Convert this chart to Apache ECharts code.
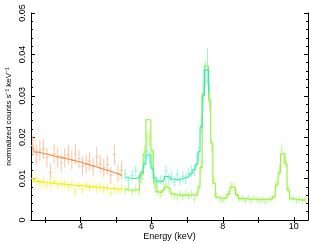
<!DOCTYPE html>
<html><head><meta charset="utf-8">
<script src="https://cdn.jsdelivr.net/npm/echarts@6/dist/echarts.min.js"></script>
<style>html,body{margin:0;padding:0;background:#fff}#c{width:310px;height:243px}</style>
</head><body><div id="c"></div>
<script>
// ---- data ----
const xTicks = [3, 4, 5, 6, 7, 8, 9, 10];
const xLabels = [4, 6, 8, 10];
const yTicks = [0, 0.01, 0.02, 0.03, 0.04, 0.05];

const energyLow = [2.65,2.75,2.85,2.95,3.05,3.15,3.25,3.35,3.45,3.55,3.65,3.75,3.85,3.95,4.05,4.15,4.25,4.35,4.45,4.55,4.65,4.75,4.85,4.95,5.05,5.15];
const orangeModel = [0.0176,0.0164,0.0162,0.0160,0.0158,0.0156,0.0154,0.0152,0.0150,0.0148,0.0146,0.0144,0.0142,0.0140,0.0137,0.0135,0.0132,0.0130,0.0127,0.0124,0.0121,0.0119,0.0116,0.0113,0.0110,0.0107];
const orangeData  = [0.0180,0.0158,0.0168,0.0172,0.0150,0.0115,0.0160,0.0150,0.0138,0.0150,0.0158,0.0145,0.0160,0.0148,0.0130,0.0135,0.0142,0.0128,0.0152,0.0135,0.0126,0.0133,0.0108,0.0158,0.0113,0.0120];
const orangeErr   = [0.0024,0.0024,0.0025,0.0024,0.0023,0.0022,0.0024,0.0023,0.0023,0.0024,0.0024,0.0023,0.0024,0.0022,0.0022,0.0023,0.0023,0.0022,0.0024,0.0022,0.0022,0.0023,0.0021,0.0024,0.0021,0.0022];
const yellowModel = [0.0101,0.0093,0.0092,0.0091,0.0090,0.0089,0.0088,0.0087,0.0087,0.0086,0.0085,0.0084,0.0083,0.0083,0.0082,0.0081,0.0080,0.0080,0.0079,0.0078,0.0078,0.0077,0.0076,0.0076,0.0075,0.0075];
const yellowData  = [0.0100,0.0095,0.0088,0.0092,0.0085,0.0090,0.0093,0.0084,0.0089,0.0087,0.0080,0.0086,0.0068,0.0083,0.0074,0.0085,0.0079,0.0082,0.0076,0.0080,0.0074,0.0078,0.0066,0.0077,0.0071,0.0076];
const yellowErr   = [0.0012,0.0012,0.0012,0.0012,0.0012,0.0012,0.0012,0.0011,0.0012,0.0012,0.0011,0.0012,0.0011,0.0011,0.0011,0.0012,0.0011,0.0011,0.0011,0.0011,0.0011,0.0011,0.0010,0.0011,0.0011,0.0011];

const energyTeal = [5.25,5.35,5.45,5.55,5.65,5.72,5.80,5.87,5.94,6.01,6.08,6.16,6.24,6.32,6.40,6.48,6.56,6.64,6.72,6.80,6.88,6.96,7.04,7.12,7.20,7.27,7.33,7.39,7.45,7.51,7.57,7.63];
const tealModel = [0.0104,0.0102,0.0101,0.0100,0.0103,0.0115,0.0135,0.0157,0.0157,0.0125,0.0102,0.0094,0.0093,0.0097,0.0105,0.0104,0.0099,0.0097,0.0098,0.0099,0.0101,0.0104,0.0108,0.0113,0.0122,0.0135,0.0165,0.0225,0.0300,0.0362,0.0362,0.0310];
const tealData  = [0.0110,0.0095,0.0108,0.0120,0.0098,0.0110,0.0140,0.0165,0.0150,0.0130,0.0100,0.0090,0.0098,0.0095,0.0118,0.0100,0.0105,0.0092,0.0110,0.0095,0.0105,0.0100,0.0112,0.0118,0.0120,0.0145,0.0160,0.0230,0.0310,0.0350,0.0370,0.0300];
const tealErr   = [0.0013,0.0012,0.0013,0.0013,0.0012,0.0013,0.0015,0.0017,0.0016,0.0015,0.0013,0.0012,0.0012,0.0012,0.0014,0.0013,0.0013,0.0012,0.0013,0.0012,0.0013,0.0013,0.0013,0.0014,0.0014,0.0016,0.0018,0.0022,0.0026,0.0030,0.0045,0.0028];

const energyGreen = [5.25,5.35,5.45,5.55,5.65,5.72,5.80,5.87,5.94,6.01,6.08,6.16,6.24,6.32,6.40,6.48,6.56,6.64,6.72,6.80,6.88,6.96,7.04,7.12,7.20,7.27,7.33,7.39,7.45,7.51,7.57,7.63,7.69,7.75,7.83,7.92,8.00,8.08,8.16,8.24,8.32,8.40,8.48,8.56,8.64,8.72,8.80,8.88,8.96,9.04,9.12,9.20,9.28,9.36,9.44,9.52,9.60,9.66,9.72,9.78,9.84,9.92,10.00,10.08,10.16,10.24,10.32];
const greenModel = [0.0075,0.0073,0.0072,0.0072,0.0075,0.0110,0.0160,0.0242,0.0242,0.0168,0.0090,0.0068,0.0066,0.0072,0.0080,0.0076,0.0064,0.0061,0.0060,0.0060,0.0060,0.0060,0.0060,0.0060,0.0060,0.0061,0.0080,0.0127,0.0305,0.0372,0.0372,0.0290,0.0186,0.0089,0.0055,0.0053,0.0052,0.0053,0.0062,0.0079,0.0078,0.0060,0.0052,0.0051,0.0051,0.0050,0.0050,0.0050,0.0050,0.0050,0.0050,0.0050,0.0050,0.0051,0.0056,0.0085,0.0115,0.0160,0.0160,0.0135,0.0072,0.0052,0.0050,0.0049,0.0049,0.0048,0.0048];
const greenData  = [0.0072,0.0078,0.0068,0.0075,0.0070,0.0100,0.0165,0.0200,0.0195,0.0160,0.0085,0.0070,0.0062,0.0070,0.0085,0.0078,0.0060,0.0058,0.0055,0.0063,0.0057,0.0062,0.0058,0.0063,0.0050,0.0062,0.0078,0.0130,0.0290,0.0360,0.0380,0.0285,0.0180,0.0095,0.0058,0.0050,0.0048,0.0055,0.0064,0.0082,0.0080,0.0062,0.0050,0.0054,0.0047,0.0052,0.0046,0.0053,0.0049,0.0047,0.0051,0.0044,0.0049,0.0052,0.0055,0.0088,0.0120,0.0170,0.0150,0.0140,0.0075,0.0050,0.0053,0.0046,0.0051,0.0047,0.0049];
const greenErr   = [0.0010,0.0010,0.0010,0.0010,0.0010,0.0012,0.0015,0.0018,0.0018,0.0015,0.0011,0.0010,0.0009,0.0010,0.0011,0.0010,0.0009,0.0009,0.0009,0.0009,0.0009,0.0009,0.0009,0.0009,0.0009,0.0009,0.0011,0.0014,0.0022,0.0025,0.0026,0.0022,0.0017,0.0011,0.0009,0.0008,0.0008,0.0009,0.0009,0.0010,0.0010,0.0009,0.0008,0.0008,0.0008,0.0008,0.0008,0.0008,0.0008,0.0008,0.0008,0.0008,0.0008,0.0008,0.0009,0.0011,0.0013,0.0016,0.0015,0.0014,0.0010,0.0008,0.0008,0.0008,0.0008,0.0008,0.0008];

// ---- build series ----
function halfWidths(e) {
  return e.map((v, i) => {
    const d = i < e.length - 1 ? e[i + 1] - v : v - e[i - 1];
    return d / 2;
  });
}
function errRows(e, d, err) {
  const hw = halfWidths(e);
  return e.map((v, i) => [v, d[i], hw[i], err[i]]);
}
function modelRows(e, m) { return e.map((v, i) => [v, m[i]]); }

function errSeries(name, rows, color) {
  return {
    name, type: 'custom', data: rows, z: 2, silent: true,
    renderItem: function (params, api) {
      const x = api.value(0), y = api.value(1), xe = api.value(2), ye = api.value(3);
      const a = api.coord([x - xe, y]), b = api.coord([x + xe, y]);
      const c = api.coord([x, y - ye]), d = api.coord([x, y + ye]);
      const st = { stroke: color, lineWidth: 1 };
      return { type: 'group', children: [
        { type: 'line', shape: { x1: a[0], y1: a[1], x2: b[0], y2: b[1] }, style: st },
        { type: 'line', shape: { x1: c[0], y1: c[1], x2: d[0], y2: d[1] }, style: st }
      ]};
    }
  };
}
function modelSeries(name, rows, color) {
  return { name, type: 'line', step: 'middle', data: rows, symbol: 'none', z: 3, silent: true,
    lineStyle: { color, width: 1.1 } };
}

const C = {
  orange: '#f08a3c', orangeD: '#f8c4a0',
  yellow: '#f0f000', yellowD: '#f6f67a',
  teal: '#30eca8', tealD: '#9ef4d2',
  green: '#98f03c', greenD: '#c4f69a'
};

const font = 'Liberation Sans, Arial, sans-serif';
const chart = echarts.init(document.getElementById('c'), null, { renderer: 'canvas' });
const axisLine = { show: true, lineStyle: { color: '#000', width: 1 } };
chart.setOption({
  animation: false,
  backgroundColor: '#fff',
  grid: { left: 31, right: 2, top: 13, bottom: 23, containLabel: false, outerBoundsMode: 'none' },
  xAxis: [{
    type: 'value', min: 2.6, max: 10.4, position: 'bottom',
    name: 'Energy (keV)', nameLocation: 'middle', nameGap: 12, nameMoveOverlap: false,
    nameTextStyle: { color: '#000', fontSize: 9, fontFamily: font },
    axisLine,
    axisTick: { show: true, inside: true, length: 3, customValues: xTicks, lineStyle: { color: '#000' } },
    axisLabel: { show: true, customValues: xLabels, color: '#000', fontSize: 9, fontFamily: font, margin: 2 },
    splitLine: { show: false }
  }, {
    type: 'value', min: 2.6, max: 10.4, position: 'top',
    axisLine,
    axisTick: { show: true, inside: true, length: 3, customValues: xTicks, lineStyle: { color: '#000' } },
    axisLabel: { show: false },
    splitLine: { show: false }
  }],
  yAxis: [{
    type: 'value', min: 0, max: 0.05, interval: 0.01, position: 'left',
    name: 'normalized counts s\u207B\u00B9 keV\u207B\u00B9', nameLocation: 'middle', nameGap: 18, nameRotate: 90,
    nameMoveOverlap: false,
    nameTextStyle: { color: '#000', fontSize: 8, fontFamily: font },
    axisLine,
    axisTick: { show: true, inside: true, length: 4, lineStyle: { color: '#000' } },
    minorTick: { show: true, splitNumber: 5, length: 2, lineStyle: { color: '#000' } },
    axisLabel: { show: true, rotate: 90, color: '#000', fontSize: 9, fontFamily: font, margin: 4,
      customValues: yTicks, formatter: v => (Math.round(v * 100) / 100).toString() },
    splitLine: { show: false }
  }, {
    type: 'value', min: 0, max: 0.05, interval: 0.01, position: 'right',
    axisLine,
    axisTick: { show: true, inside: true, length: 4, lineStyle: { color: '#000' } },
    minorTick: { show: true, splitNumber: 5, length: 2, lineStyle: { color: '#000' } },
    axisLabel: { show: false },
    splitLine: { show: false }
  }],
  series: [
    errSeries('orangeData', errRows(energyLow, orangeData, orangeErr), C.orangeD),
    errSeries('yellowData', errRows(energyLow, yellowData, yellowErr), C.yellowD),
    errSeries('greenData', errRows(energyGreen, greenData, greenErr), C.greenD),
    errSeries('tealData', errRows(energyTeal, tealData, tealErr), C.tealD),
    modelSeries('orangeModel', modelRows(energyLow, orangeModel), C.orange),
    modelSeries('yellowModel', modelRows(energyLow, yellowModel), C.yellow),
    modelSeries('greenModel', modelRows(energyGreen, greenModel), C.green),
    modelSeries('tealModel', modelRows(energyTeal, tealModel), C.teal)
  ]
});
</script></body></html>
